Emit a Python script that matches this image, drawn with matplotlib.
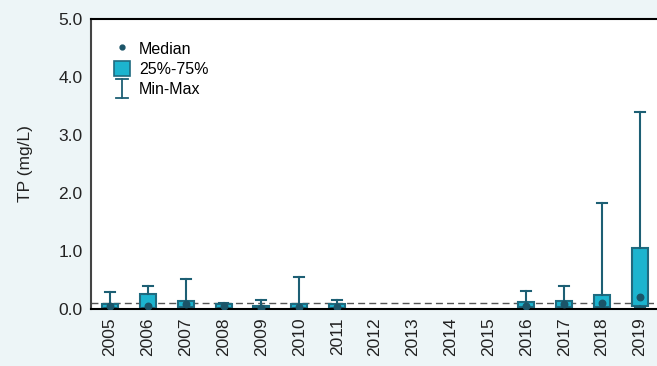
import matplotlib
matplotlib.use("Agg")
import matplotlib.pyplot as plt
from matplotlib.lines import Line2D
from matplotlib.patches import Patch
from matplotlib.legend_handler import HandlerBase

plt.rcParams['font.family'] = ['Liberation Sans', 'DejaVu Sans']

years = ['2005', '2006', '2007', '2008', '2009', '2010', '2011', '2012',
         '2013', '2014', '2015', '2016', '2017', '2018', '2019']
# Summary statistics per year (mg/L); None where no samples were taken
tp_min = [0.01, 0.01, 0.02, 0.01, 0.005, 0.01, 0.01, None, None, None, None, 0.02, 0.02, 0.01, 0.03]
tp_q1 = [0.02, 0.02, 0.03, 0.01, 0.01, 0.015, 0.01, None, None, None, None, 0.035, 0.03, 0.03, 0.06]
tp_median = [0.05, 0.045, 0.09, 0.05, 0.02, 0.04, 0.04, None, None, None, None, 0.05, 0.09, 0.10, 0.20]
tp_q3 = [0.09, 0.26, 0.14, 0.08, 0.05, 0.085, 0.08, None, None, None, None, 0.125, 0.14, 0.24, 1.06]
tp_max = [0.30, 0.40, 0.51, 0.11, 0.15, 0.56, 0.15, None, None, None, None, 0.31, 0.40, 1.83, 3.40]
guideline = 0.1

BOX_FILL = '#1cb4cf'
BOX_EDGE = '#1f6b80'
WHISKER = '#1d5f74'
MEDIAN = '#1b5468'
BG = '#edf5f7'

fig = plt.figure(figsize=(6.57, 3.66), dpi=100, facecolor=BG)
ax = fig.add_axes([91 / 657, 1 - 309 / 366, 1 - 91 / 657, 290 / 366])
ax.set_facecolor('white')

stats, positions = [], []
for i, y in enumerate(years):
    if tp_median[i] is None:
        continue
    stats.append(dict(med=tp_median[i], q1=tp_q1[i], q3=tp_q3[i],
                      whislo=tp_min[i], whishi=tp_max[i], fliers=[]))
    positions.append(i)

ax.bxp(stats, positions=positions, widths=0.42, patch_artist=True,
       showfliers=False,
       boxprops=dict(facecolor=BOX_FILL, edgecolor=BOX_EDGE, linewidth=1.5),
       whiskerprops=dict(color=WHISKER, linewidth=1.5),
       capprops=dict(color=WHISKER, linewidth=1.5),
       medianprops=dict(linewidth=0), capwidths=0.26)
ax.scatter(positions, [s['med'] for s in stats], s=22, color=MEDIAN, zorder=5)

ax.axhline(guideline, color='#555555', linestyle=(0, (5, 3)), linewidth=1.0, zorder=1)

ax.set_xlim(-0.502, 14.45)
ax.set_ylim(0, 5.0)
ax.set_yticks([0, 1, 2, 3, 4, 5])
ax.set_yticklabels([f'{v:.1f}' for v in [0, 1, 2, 3, 4, 5]], fontsize=12.5, color='#222222')
ax.set_xticks(range(len(years)))
ax.set_xticklabels(years, rotation=90, fontsize=12.5, color='#222222')
ax.tick_params(axis='both', length=0, pad=6)
ax.set_ylabel('TP (mg/L)', fontsize=12.5, color='#222222', labelpad=18)

for side in ['top', 'bottom']:
    ax.spines[side].set_color('black')
    ax.spines[side].set_linewidth(1.5)
ax.spines['left'].set_color('#444444')
ax.spines['left'].set_linewidth(1.5)
ax.spines['right'].set_visible(False)


class MinMaxHandler(HandlerBase):
    def create_artists(self, legend, orig_handle, xdescent, ydescent,
                       width, height, fontsize, trans):
        cx = width / 2 - xdescent
        cw = width * 0.8
        lo, hi = -ydescent - 1, height - ydescent + 1
        lines = [
            Line2D([cx, cx], [lo, hi], color=WHISKER, lw=1.3),
            Line2D([cx - cw / 2, cx + cw / 2], [hi, hi], color=WHISKER, lw=1.3),
            Line2D([cx - cw / 2, cx + cw / 2], [lo, lo], color=WHISKER, lw=1.3),
        ]
        for ln in lines:
            ln.set_transform(trans)
        return lines


h_med = Line2D([], [], marker='o', linestyle='none', color=MEDIAN, markersize=3.5)
h_box = Patch(facecolor=BOX_FILL, edgecolor=BOX_EDGE, linewidth=1.2)
h_mm = object()
ax.legend([h_med, h_box, h_mm], ['Median', '25%-75%', 'Min-Max'],
          handler_map={object: MinMaxHandler()},
          loc='upper left', bbox_to_anchor=(0.016, 0.975), frameon=False,
          fontsize=11.5, handlelength=0.95, handleheight=1.1,
          handletextpad=0.6, labelspacing=0.25)

fig.savefig('out.png', dpi=100, facecolor=BG)
